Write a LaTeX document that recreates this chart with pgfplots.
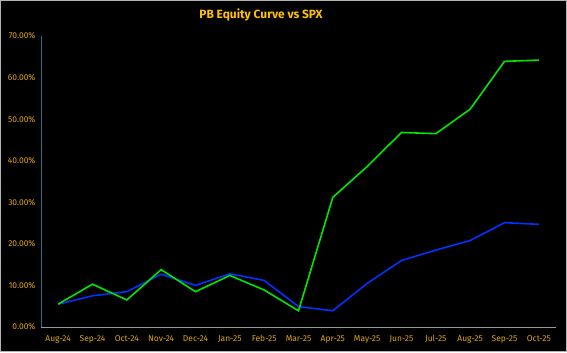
\documentclass[border=0pt]{standalone}
\usepackage{pgfplots}
\pgfplotsset{compat=1.18}
\usepackage{fontspec}
\setmainfont{Fira Sans}
\definecolor{gold}{HTML}{E0A800}
\definecolor{titlegold}{HTML}{FFC000}
\definecolor{pbgreen}{HTML}{00E600}
\definecolor{spxblue}{HTML}{0033FF}
\definecolor{yaxcol}{HTML}{2F6F8F}
\begin{document}
\begin{tikzpicture}[x=1bp,y=1bp]
\fill[black] (0,0) rectangle (567,352);
\draw[gray!60, line width=1.2bp] (0.6,0.6) rectangle (566.4,351.4);
\node[text=titlegold, font=\fontsize{12}{14}\selectfont\bfseries] at (261,337) {PB Equity Curve vs SPX};
\begin{axis}[
  at={(41bp,25bp)}, anchor=south west,
  scale only axis, width=515bp, height=291bp,
  xmin=-0.5, xmax=14.5, ymin=0, ymax=70,
  xtick={0,...,14},
  xticklabels={Aug-24,Sep-24,Oct-24,Nov-24,Dec-24,Jan-25,Feb-25,Mar-25,Apr-25,May-25,Jun-25,Jul-25,Aug-25,Sep-25,Oct-25},
  ytick={0,10,...,70},
  yticklabel={\pgfmathprintnumber[fixed,fixed zerofill,precision=2]{\tick}\%},
  /pgf/number format/assume math mode=true,
  ticklabel style={text=gold, font=\fontsize{8.5}{10}\selectfont},
  major tick length=0pt,
  axis line style={draw=none},
  axis x line*=bottom, axis y line*=left,
  xticklabel style={yshift=-5bp},
  yticklabel style={xshift=-2bp},
  clip=false,
]
\draw[gray!80!white, line width=0.8bp] (axis cs:-0.5,0) -- (axis cs:14.5,0);
\draw[yaxcol, line width=0.8bp] (axis cs:-0.5,0) -- (axis cs:-0.5,70);
\addplot[spxblue, line width=1.6bp, mark=none] coordinates {
(0,5.5) (1,7.5) (2,8.5) (3,12.7) (4,10.0) (5,12.8) (6,11.2) (7,4.9) (8,3.9) (9,10.5) (10,16.0) (11,18.5) (12,20.8) (13,25.1) (14,24.7)};
\addplot[pbgreen, line width=1.6bp, mark=none] coordinates {
(0,5.5) (1,10.3) (2,6.5) (3,13.8) (4,8.5) (5,12.4) (6,8.9) (7,3.9) (8,31.2) (9,38.6) (10,46.8) (11,46.5) (12,52.4) (13,63.9) (14,64.2)};
\end{axis}
\end{tikzpicture}
\end{document}
